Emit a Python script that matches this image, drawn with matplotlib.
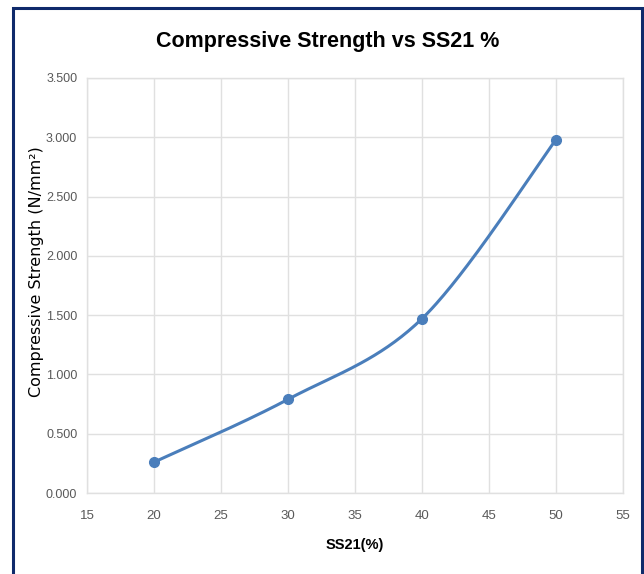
import numpy as np
import matplotlib
matplotlib.use("Agg")
import matplotlib.pyplot as plt
from matplotlib.patches import Rectangle

ss21 = [20, 30, 40, 50]
strength = [0.26, 0.79, 1.47, 2.98]
xticks = [15, 20, 25, 30, 35, 40, 45, 50, 55]
yticks = [0.0, 0.5, 1.0, 1.5, 2.0, 2.5, 3.0, 3.5]

def catmull(xs, ys, n=60):
    pts = np.column_stack([xs, ys]).astype(float)
    p = np.vstack([pts[0], pts, pts[-1]])
    out = []
    t = np.linspace(0, 1, n)[:, None]
    for i in range(1, len(p) - 2):
        p0, p1, p2, p3 = p[i - 1], p[i], p[i + 1], p[i + 2]
        c1 = p1 + (p2 - p0) / 6
        c2 = p2 - (p3 - p1) / 6
        seg = (1 - t) ** 3 * p1 + 3 * (1 - t) ** 2 * t * c1 + 3 * (1 - t) * t ** 2 * c2 + t ** 3 * p2
        out.append(seg)
    out = np.vstack(out)
    return out[:, 0], out[:, 1]

narrow = ['Liberation Sans Narrow', 'Liberation Sans', 'DejaVu Sans']

fig = plt.figure(figsize=(6.44, 5.74), dpi=100)
fig.patches.append(Rectangle((13 / 644, -0.05), (642 - 13) / 644, 1.05 - 8 / 574,
                             transform=fig.transFigure, fill=False,
                             edgecolor='#0f2a6b', linewidth=2.2))
ax = fig.add_axes([87 / 644, 1 - 493 / 574, (623 - 87) / 644, (493 - 78) / 574])

sx, sy = catmull(ss21, strength)
ax.plot(sx, sy, color='#4a7ebb', linewidth=2.2, solid_capstyle='round')
ax.plot(ss21, strength, 'o', color='#4a7ebb', markersize=7)

ax.set_xlim(15, 55)
ax.set_ylim(0, 3.5)
ax.set_xticks(xticks)
ax.set_yticks(yticks)
ax.set_xticklabels([str(v) for v in xticks], family=narrow, fontsize=9.5, color='#595959')
ax.set_yticklabels([f"{v:.3f}" for v in yticks], family=narrow, fontsize=9, color='#595959')
ax.tick_params(length=0, pad=12)
ax.tick_params(axis='y', pad=7)
ax.grid(True, color='#e0e0e0', linewidth=1)
ax.set_axisbelow(True)
for s in ax.spines.values():
    s.set_color('#e0e0e0')
    s.set_linewidth(1)

ax.set_xlabel('SS21(%)', family=narrow, fontsize=10.5, fontweight='bold', labelpad=12)
ax.set_ylabel('Compressive Strength (N/mm²)', family=['DejaVu Sans'], fontsize=11.5)
ax.yaxis.set_label_coords(-0.080, 0.533)
fig.text(328 / 644, 1 - 42 / 574, 'Compressive Strength vs SS21 %', ha='center', va='center',
         family=narrow, fontsize=15.5, fontweight='bold')

fig.savefig('out.png', dpi=100)
